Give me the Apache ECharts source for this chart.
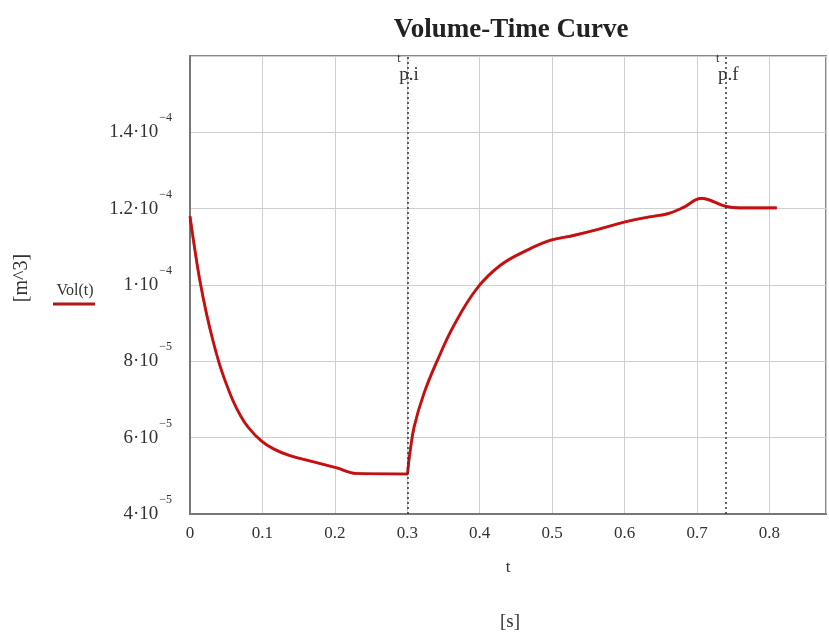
<!DOCTYPE html>
<html><head><meta charset="utf-8">
<script src="https://cdn.jsdelivr.net/npm/echarts@6/dist/echarts.min.js"></script>
<style>html,body{margin:0;padding:0;background:#fff}#c{width:829px;height:635px}</style>
</head><body><div id="c"></div>
<script>
// time samples [s]
var tData = [0, 0.007, 0.0138, 0.023, 0.032, 0.041, 0.0505, 0.06, 0.0688, 0.08, 0.0986, 0.115, 0.1375, 0.17, 0.202, 0.231, 0.3, 0.301, 0.3035, 0.3095, 0.323, 0.3416, 0.3645, 0.3966, 0.4288, 0.4653, 0.4975, 0.53, 0.564, 0.60, 0.633, 0.66, 0.681, 0.706, 0.74, 0.766, 0.81];
// volume [m^3]
var volData = [11.8e-5, 10.89e-5, 10.1e-5, 9.23e-5, 8.52e-5, 7.91e-5, 7.39e-5, 6.94e-5, 6.61e-5, 6.28e-5, 5.91e-5, 5.71e-5, 5.53e-5, 5.37e-5, 5.21e-5, 5.06e-5, 5.05e-5, 5.2e-5, 5.59e-5, 6.29e-5, 7.16e-5, 8.03e-5, 8.95e-5, 9.92e-5, 10.52e-5, 10.91e-5, 11.17e-5, 11.30e-5, 11.46e-5, 11.65e-5, 11.78e-5, 11.87e-5, 12.03e-5, 12.27e-5, 12.06e-5, 12.02e-5, 12.02e-5];
var yTickValues = [4e-5, 6e-5, 8e-5, 1e-4, 1.2e-4, 1.4e-4];
var yTickMant = ['4', '6', '8', '1', '1.2', '1.4'];
var yTickExp = ['−5', '−5', '−5', '−4', '−4', '−4'];
var markTimes = [0.3, 0.74];
var markNames = ['p.i', 'p.f'];

var serif = '"Liberation Serif","DejaVu Serif",serif';
var chart = echarts.init(document.getElementById('c'));
var pts = tData.map(function (t, i) { return [t, volData[i]]; });

function yFmt(v) {
  for (var i = 0; i < yTickValues.length; i++) {
    if (Math.abs(v - yTickValues[i]) < 1e-9) return '{m|' + yTickMant[i] + '·10}{s|' + yTickExp[i] + '}';
  }
  return '';
}

chart.setOption({
  animation: false,
  grid: { left: 190, top: 56, right: 0, bottom: 121, show: true, borderColor: '#888', borderWidth: 2, backgroundColor: 'transparent' },
  xAxis: {
    type: 'value', min: 0, max: 0.878, interval: 0.1,
    axisLine: { show: true, lineStyle: { color: '#777', width: 2 } },
    axisTick: { show: false },
    splitLine: { show: true, lineStyle: { color: '#cfcfcf', width: 1 } },
    axisLabel: { color: '#333', fontFamily: serif, fontSize: 17, margin: 11,
      formatter: function (v) { return v > 0.85 ? '' : (Math.round(v * 10) / 10).toString(); } },
    name: 't', nameLocation: 'middle', nameGap: 45,
    nameTextStyle: { color: '#333', fontFamily: serif, fontSize: 17 }
  },
  yAxis: {
    type: 'value', min: 4e-5, max: 1.6e-4, interval: 2e-5,
    axisLine: { show: true, lineStyle: { color: '#777', width: 2 } },
    axisTick: { show: false },
    splitLine: { show: true, lineStyle: { color: '#cfcfcf', width: 1 } },
    axisLabel: { formatter: yFmt, margin: 18,
      rich: {
        m: { color: '#333', fontFamily: serif, fontSize: 19 },
        s: { color: '#333', fontFamily: serif, fontSize: 12, padding: [0, 0, 28, 1] }
      } }
  },
  series: [{
    type: 'line', data: pts, showSymbol: false, smooth: 0.4,
    lineStyle: { color: '#cc0c0c', width: 2.6, shadowColor: 'rgba(60,0,0,0.6)', shadowBlur: 1 },
    markLine: {
      symbol: 'none', silent: true,
      lineStyle: { color: '#333', type: [2, 3], width: 1.5 },
      label: { show: false },
      data: markTimes.map(function (t) { return { xAxis: t }; })
    }
  }]
});

var graphics = [];
graphics.push({ type: 'text', x: 511, y: 30, style: { text: 'Volume-Time Curve', fontFamily: serif, fontSize: 27, fontWeight: 'bold', fill: '#222', textAlign: 'center', textVerticalAlign: 'middle' } });
graphics.push({ type: 'text', x: 22, y: 278, rotation: Math.PI / 2, style: { text: '[m^3]', fontFamily: serif, fontSize: 20, fill: '#333', textAlign: 'center', textVerticalAlign: 'middle' } });
graphics.push({ type: 'text', x: 510, y: 622, style: { text: '[s]', fontFamily: serif, fontSize: 19, fill: '#333', textAlign: 'center', textVerticalAlign: 'middle' } });
graphics.push({ type: 'text', x: 75, y: 291, style: { text: 'Vol(t)', fontFamily: serif, fontSize: 16, fill: '#333', textAlign: 'center', textVerticalAlign: 'middle' } });
graphics.push({ type: 'line', shape: { x1: 53, y1: 304, x2: 95, y2: 304 }, style: { stroke: '#b01818', lineWidth: 3 } });
markTimes.forEach(function (t, i) {
  var px = chart.convertToPixel({ gridIndex: 0 }, [t, 1.6e-4]);
  graphics.push({ type: 'text', x: px[0] - 10, y: px[1] - 3, style: { text: 't', fontFamily: serif, fontSize: 12, fill: '#333' } });
  graphics.push({ type: 'text', x: px[0] - 8, y: px[1] + 10, style: { text: markNames[i], fontFamily: serif, fontSize: 19, fill: '#333' } });
});
chart.setOption({ graphic: graphics });
</script>
</body></html>
